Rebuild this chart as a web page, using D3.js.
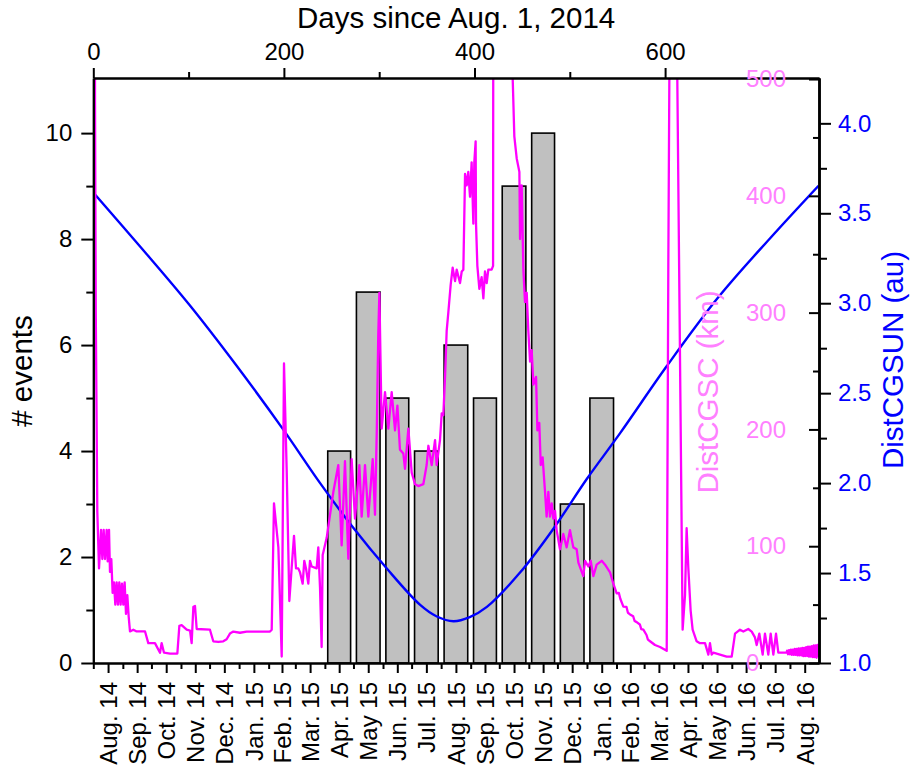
<!DOCTYPE html>
<html><head><meta charset="utf-8">
<script src="https://cdn.jsdelivr.net/npm/d3@7"></script>
<style>
body{margin:0;background:#fff}
svg{display:block}
text{font-family:"Liberation Sans",Arial,Helvetica,sans-serif}
</style>
</head><body>
<svg id="c" width="911" height="769"></svg>
<script>
// ---------------- data ----------------
const monthLabels = ["Aug. 14","Sep. 14","Oct. 14","Nov. 14","Dec. 14","Jan. 15","Feb. 15","Mar. 15",
  "Apr. 15","May 15","Jun. 15","Jul. 15","Aug. 15","Sep. 15","Oct. 15","Nov. 15","Dec. 15",
  "Jan. 16","Feb. 16","Mar. 16","Apr. 16","May 16","Jun. 16","Jul. 16","Aug. 16"];
const barCategories = ["Apr. 15","May 15","Jun. 15","Jul. 15","Aug. 15","Sep. 15","Oct. 15","Nov. 15","Dec. 15","Jan. 16"];
const barCounts = [4,7,5,4,6,5,9,10,3,5];

const topTicks = [0,200,400,600];
const topMinor = [100,300,500];
const leftTicks = [0,2,4,6,8,10];
const leftMinor = [1,3,5,7,9];
const sunTicks = [1.0,1.5,2.0,2.5,3.0,3.5,4.0];
const sunMinor = [1.25,1.75,2.25,2.75,3.25,3.75];
const kmTicks = [0,100,200,300,400,500];
const kmMinor = [50,150,250,350,450];

// DistCGSUN (au) vs days since Aug. 1, 2014
const sunDays = [0,50,101,150,199,238,273,308,343,360,378,395,413,448,483,518,553,602,656,710,761];
const sunAU   = [3.615,3.31,2.99,2.655,2.30,2.00,1.75,1.525,1.323,1.26,1.232,1.255,1.312,1.504,1.748,2.024,2.279,2.652,3.034,3.36,3.653];

// DistCGSC (km): [day, km]
const scPoints = [
 [0.8,1200],[1.8,480],[2.6,300],[4.2,130],[6.0,81],[8.1,114],[9.5,89],[10.9,114],[12.3,89],[14.0,114],
 [15.1,87],[16.5,114],[17.5,78],[18.9,89],[20.3,60],[21.7,69],[23.1,50],[24.5,69],[25.9,50],[27.3,69],
 [28.7,50],[30.1,68],[31.5,50],[32.9,69],[34.3,42],[35.7,58],[37.1,40],[38.5,27],[42.0,28.5],[45.5,27],
 [54.3,27],[57.7,17],[64.7,17],[70.0,8.8],[71.7,17],[74.2,8.8],[80.5,8.1],[88.2,8.1],[90.3,31.8],[92.7,32.4],
 [98.0,28.5],[101.5,27.8],[103.2,17],[105.0,48.2],[106.7,48.8],[108.5,29.1],[122.4,28.5],[125.9,18.6],[131.2,18],[136.4,18.6],
 [139.9,20.3],[143.4,25.2],[146.9,26.9],[153.9,25.9],[160.9,26.9],[185.4,26.9],[187.2,28.5],[189.6,136.7],[194.2,99],[197.7,5.5],
 [200.1,256.5],[202.9,166.3],[205.7,53.1],[208.1,81],[210.6,108.9],[212.7,81],[215.1,81],[216.9,77.7],[219.7,67.9],[221.4,87.5],
 [223.2,81],[225.6,67.9],[227.4,87.5],[229.1,82.6],[234.4,81],[236.1,99],[237.9,64.6],[239.6,13.7],[240.7,92.4],[244.9,107.2],
 [251.9,146.6],[257.1,169.5],[260.6,100.7],[264.1,172.8],[267.6,89.2],[271.1,174.5],[274.6,123.6],[279.2,169.5],[281.6,125.3],[285.1,169.5],
 [288.6,125.3],[293.2,174.5],[295.6,126.9],[297.5,200],[299.0,280],[300.2,317],[302.6,200.7],[306.1,231.9],[309.6,200.7],[313.1,231.9],
 [316.6,199.1],[319.1,220.4],[321.8,182.7],[325.3,179.4],[327.1,166.3],[330.6,200.7],[334.1,163],[337.6,153.1],[341.1,151.5],[346.3,153.1],
 [349.8,169.5],[351.6,186],[355.1,169.5],[358.6,190.9],[360.3,169.5],[363.8,190.9],[365.6,213.8],[367.3,212.2],[369.1,245],[370.8,284.3],
 [372.6,300.7],[375.0,323.7],[377.1,338.5],[379.6,327],[381.3,336.8],[384.8,325.3],[386.6,335.2],[388.3,336.8],[390.1,418.8],[391.8,409],
 [393.5,420.5],[395.3,399.2],[397.0,428.7],[398.8,376.2],[399.8,428.7],[401.2,446.7],[401.6,376.2],[403.0,340.1],[405.1,320.4],[407.5,330.3],
 [409.3,312.2],[411.0,335.2],[412.8,325.3],[414.5,336.8],[418.0,336.8],[419.5,340],[420.5,1400],[439.0,1500],[440.1,500],[441.8,451],
 [444.3,432],[447.1,420.5],[447.8,363],[449.5,409],[451.3,336.8],[453.0,309],[454.8,317],[456.5,284.3],[458.3,258.1],[460.0,267.9],
 [461.8,238.4],[464.6,245],[466.0,199.1],[468.0,205.6],[469.5,169.5],[471.5,176.1],[474.0,146.6],[475.7,125.3],[477.5,146.6],[479.2,125.3],
 [481.0,136.7],[482.7,123.6],[484.5,130.2],[486.2,113.8],[489.7,97.4],[493.2,110.5],[496.7,99],[500.2,113.8],[503.7,99],[507.2,97.4],
 [509.0,85.9],[514.2,74.4],[516.0,87.5],[519.5,82.6],[521.9,87.5],[524.7,74.4],[528.2,84.2],[533.5,87.5],[537.0,84.2],[542.2,77.7],
 [545.7,67.9],[549.2,59.6],[551.5,60],[553.0,55],[556.2,48.2],[559.5,48],[561.0,43],[563.2,41.6],[566.5,40],[568.0,36],[570.2,35],
 [573.5,33],[575.0,29],[577.2,28.5],[580.5,24],[582.0,20],[584.2,18.6],[589.4,15.4],[594.7,13.7],[601.7,10.4],
 [603.4,343],[607.5,950],[618.4,28.5],[620.9,58],[622.6,115.4],[624.4,81],[626.8,44.9],[628.9,28.5],[633.1,18.6],[636.6,17],
 [641.9,17],[645.4,7.2],[647.1,17],[648.9,7.2],[650.6,8.8],[657.6,7.2],[664.6,5.5],[669.9,5.5],[673.4,25.2],[678.6,28.5],
 [682.1,26.9],[687.3,29.1],[690.9,26.9],[694.3,21.9],[696.1,15.4],[698.9,25.2],[702.4,7.2],[704.8,25.2],[708.3,7.2],[710.8,25.2],
 [713.6,7.2],[716.4,25.2],[718.8,8.8],[727.6,8.8],[728,10.5],[729,7.5],[730,11],[731,7.5],[732,11.5],[733,7],
 [734,11.5],[735,7],[736,12],[737,7],[738,12],[739,6.5],[740,12.5],[741,6.5],[742,12.5],[743,6.5],
 [744,13],[745,6],[746,13],[747,6],[748,13.5],[749,6],[750,14],[751,5.5],[752,14],[753,5.5],
 [754,14.5],[755,5],[756,15],[757,5],[758,15],[759,4.5],[760,15.5],[761,5]
];

// ---------------- layout ----------------
const L = 93.3, R = 819, T = 78, B = 663;
const FONT_TICK = 24, FONT_TITLE = 29.5;
const BLUE = "#0000ff", MAG = "#ff00ff", PINK = "#ff80ff";

const svg = d3.select("#c");
const t0 = new Date(2014, 7, 1);
const dayOf = d => Math.round((d - t0) / 864e5);

const x  = d3.scaleLinear().domain([0, 761.5]).range([L, R]);
const yL = d3.scaleLinear().domain([0, 11.04]).range([B, T]);
const yB = d3.scaleLinear().domain([1, 4.252]).range([B, T]);
const yP = d3.scaleLinear().domain([0, 500.9]).range([B, T]);

const months = d3.timeMonth.range(new Date(2014, 7, 1), new Date(2016, 8, 1));
const monthStart = months.map(dayOf);
const monthEnd = months.map(m => dayOf(d3.timeMonth.offset(m, 1)));
const monthMid = monthStart.map((s, i) => (s + monthEnd[i]) / 2);

svg.append("defs").append("clipPath").attr("id", "plotclip")
  .append("rect").attr("x", L).attr("y", T).attr("width", R - L).attr("height", B - T);

// ---------------- bars ----------------
svg.append("g").selectAll("rect").data(barCategories).join("rect")
  .attr("x", (c) => { const i = monthLabels.indexOf(c); const len = monthEnd[i] - monthStart[i]; return x(monthStart[i] + len * 0.1); })
  .attr("width", (c) => { const i = monthLabels.indexOf(c); const len = monthEnd[i] - monthStart[i]; return x(len * 0.8) - x(0); })
  .attr("y", (c, k) => yL(barCounts[k]))
  .attr("height", (c, k) => yL(0) - yL(barCounts[k]))
  .attr("fill", "#c0c0c0").attr("stroke", "#000").attr("stroke-width", 1.6);

// ---------------- lines ----------------
const gl = svg.append("g").attr("clip-path", "url(#plotclip)");
gl.append("path")
  .datum(sunDays.map((d, i) => [d, sunAU[i]]))
  .attr("fill", "none").attr("stroke", BLUE).attr("stroke-width", 2.4)
  .attr("d", d3.line().x(d => x(d[0])).y(d => yB(d[1])).curve(d3.curveCatmullRom.alpha(0.5)));
gl.append("path")
  .datum(scPoints)
  .attr("fill", "none").attr("stroke", MAG).attr("stroke-width", 2.3).attr("stroke-linejoin", "round")
  .attr("d", d3.line().x(d => x(d[0])).y(d => yP(d[1])));

// ---------------- axes ----------------
function styleAxis(g, color) {
  g.selectAll("path.domain").attr("stroke", "#000").attr("stroke-width", 2);
  g.selectAll(".tick line").attr("stroke", "#000").attr("stroke-width", 2);
  g.selectAll("text").attr("font-size", FONT_TICK).attr("fill", color || "#000")
    .attr("font-family", '"Liberation Sans",Arial,sans-serif');
}

// left
const gLeft = svg.append("g").attr("transform", `translate(${L},0)`)
  .call(d3.axisLeft(yL).tickValues(leftTicks).tickSize(12).tickSizeOuter(0).tickPadding(9).tickFormat(d3.format("d")));
styleAxis(gLeft);
const gLeftMin = svg.append("g").attr("transform", `translate(${L},0)`)
  .call(d3.axisLeft(yL).tickValues(leftMinor).tickSize(7).tickSizeOuter(0).tickFormat(""));
styleAxis(gLeftMin);

// top
const gTop = svg.append("g").attr("transform", `translate(0,${T})`)
  .call(d3.axisTop(x).tickValues(topTicks).tickSize(10).tickSizeOuter(0).tickPadding(8).tickFormat(d3.format("d")));
styleAxis(gTop);
const gTopMin = svg.append("g").attr("transform", `translate(0,${T})`)
  .call(d3.axisTop(x).tickValues(topMinor).tickSize(6).tickSizeOuter(0).tickFormat(""));
styleAxis(gTopMin);

// bottom: month starts (short) + mid-month (long, labelled)
const gBot = svg.append("g").attr("transform", `translate(0,${B})`)
  .call(d3.axisBottom(x).tickValues(monthStart.filter(d => d <= 761.5)).tickSize(6).tickSizeOuter(0).tickFormat(""));
styleAxis(gBot);
const gBotMid = svg.append("g").attr("transform", `translate(0,${B})`)
  .call(d3.axisBottom(x).tickValues(monthMid).tickSize(10).tickSizeOuter(0)
    .tickFormat((d, i) => monthLabels[i]));
styleAxis(gBotMid);
gBotMid.selectAll(".tick text")
  .attr("transform", "rotate(-90)").attr("text-anchor", "end")
  .attr("x", -19).attr("y", 0).attr("dy", "0.35em");

// right: DistCGSUN (outward)
const gSun = svg.append("g").attr("transform", `translate(${R},0)`)
  .call(d3.axisRight(yB).tickValues(sunTicks).tickSize(12).tickSizeOuter(0).tickPadding(7).tickFormat(d3.format(".1f")));
styleAxis(gSun, BLUE);
const gSunMin = svg.append("g").attr("transform", `translate(${R},0)`)
  .call(d3.axisRight(yB).tickValues(sunMinor).tickSize(8).tickSizeOuter(0).tickFormat(""));
styleAxis(gSunMin);

// right: DistCGSC (inward)
const gKm = svg.append("g").attr("transform", `translate(${R},0)`)
  .call(d3.axisLeft(yP).tickValues(kmTicks).tickSize(10).tickSizeOuter(0).tickFormat(d3.format("d")));
styleAxis(gKm, PINK);
gKm.selectAll(".tick text").attr("text-anchor", "start").attr("x", 746 - R);
const gKmMin = svg.append("g").attr("transform", `translate(${R},0)`)
  .call(d3.axisLeft(yP).tickValues(kmMinor).tickSize(6).tickSizeOuter(0).tickFormat(""));
styleAxis(gKmMin);

// ---------------- titles ----------------
svg.append("text").attr("x", (L + R) / 2).attr("y", 28).attr("text-anchor", "middle")
  .attr("font-size", FONT_TITLE).attr("fill", "#000").text("Days since Aug. 1, 2014");
svg.append("text").attr("transform", "translate(32,371) rotate(-90)").attr("text-anchor", "middle")
  .attr("font-size", FONT_TITLE).attr("fill", "#000").text("# events");
svg.append("text").attr("transform", "translate(718,392) rotate(-90)").attr("text-anchor", "middle")
  .attr("font-size", FONT_TITLE).attr("fill", PINK).text("DistCGSC (km)");
svg.append("text").attr("transform", "translate(903,360) rotate(-90)").attr("text-anchor", "middle")
  .attr("font-size", FONT_TITLE).attr("fill", BLUE).text("DistCGSUN (au)");
</script>
</body></html>
